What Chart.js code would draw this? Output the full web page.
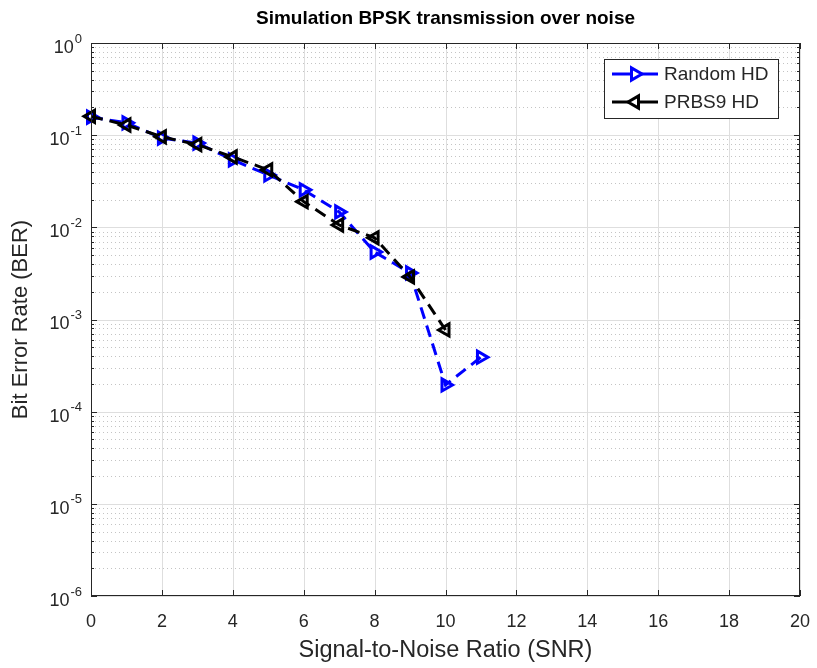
<!DOCTYPE html>
<html>
<head>
<meta charset="utf-8">
<script src="https://cdn.jsdelivr.net/npm/chart.js@4.4.0/dist/chart.umd.min.js"></script>
<style>
  body { margin: 0; background: #fff; }
  #wrap { width: 817px; height: 668px; }
</style>
</head>
<body>
<div id="wrap"><canvas id="myChart" width="817" height="668"></canvas></div>
<script>
// values
const snr = [0, 1, 2, 3, 4, 5, 6, 7, 8, 9, 10, 11];
const randomHD = [0.157, 0.136, 0.093, 0.082, 0.054, 0.037, 0.0255, 0.0147, 0.0054, 0.0032, 0.000195, 0.00039];
const prbs9HD = [0.16, 0.129, 0.096, 0.079, 0.058, 0.042, 0.019, 0.0106, 0.0077, 0.0029, 0.00077];
const xTicks = [0, 2, 4, 6, 8, 10, 12, 14, 16, 18, 20];
const yExponents = [-6, -5, -4, -3, -2, -1, 0];
const minorMantissa = [2, 3, 4, 5, 6, 7, 8, 9];

const FONT = "'Liberation Sans', Arial, Helvetica, sans-serif";
const AXIS_COLOR = "#262626";

const toPoints = (ys) => ys.map((y, i) => ({ x: snr[i], y: y }));

// grid, ticks, labels, title and legend, matlab style
const matlabAxes = {
    id: "matlabAxes",
    beforeDatasetsDraw(chart) {
        const { ctx, chartArea: a, scales } = chart;
        const x = scales.x, y = scales.y;
        ctx.save();
        // minor dotted grid (y only)
        ctx.strokeStyle = "#c4c4c4";
        ctx.lineWidth = 1;
        ctx.setLineDash([1, 3]);
        yExponents.slice(0, -1).forEach((e) => {
            minorMantissa.forEach((m) => {
                const py = Math.round(y.getPixelForValue(m * Math.pow(10, e))) + 0.5;
                ctx.beginPath();
                ctx.moveTo(a.left, py);
                ctx.lineTo(a.right, py);
                ctx.stroke();
            });
        });
        // major grid
        ctx.setLineDash([]);
        ctx.strokeStyle = "#dedede";
        xTicks.forEach((t) => {
            const px = Math.round(x.getPixelForValue(t)) + 0.5;
            ctx.beginPath();
            ctx.moveTo(px, a.top);
            ctx.lineTo(px, a.bottom);
            ctx.stroke();
        });
        yExponents.forEach((e) => {
            const py = Math.round(y.getPixelForValue(Math.pow(10, e))) + 0.5;
            ctx.beginPath();
            ctx.moveTo(a.left, py);
            ctx.lineTo(a.right, py);
            ctx.stroke();
        });
        ctx.restore();
    },
    afterDatasetsDraw(chart) {
        const { ctx, chartArea: a, scales } = chart;
        const x = scales.x, y = scales.y;
        ctx.save();
        ctx.strokeStyle = AXIS_COLOR;
        ctx.lineWidth = 1;
        // box
        ctx.strokeRect(a.left + 0.5, a.top + 0.5, a.right - a.left - 1, a.bottom - a.top - 1);
        // ticks
        ctx.beginPath();
        xTicks.forEach((t) => {
            const px = Math.round(x.getPixelForValue(t)) + 0.5;
            ctx.moveTo(px, a.bottom);
            ctx.lineTo(px, a.bottom - 6);
            ctx.moveTo(px, a.top);
            ctx.lineTo(px, a.top + 6);
        });
        yExponents.forEach((e) => {
            const py = Math.round(y.getPixelForValue(Math.pow(10, e))) + 0.5;
            ctx.moveTo(a.left, py);
            ctx.lineTo(a.left + 6, py);
            ctx.moveTo(a.right, py);
            ctx.lineTo(a.right - 6, py);
            if (e < 0) {
                minorMantissa.forEach((m) => {
                    const my = Math.round(y.getPixelForValue(m * Math.pow(10, e))) + 0.5;
                    ctx.moveTo(a.left, my);
                    ctx.lineTo(a.left + 3, my);
                    ctx.moveTo(a.right, my);
                    ctx.lineTo(a.right - 3, my);
                });
            }
        });
        ctx.stroke();

        // x tick labels
        ctx.fillStyle = AXIS_COLOR;
        ctx.font = "18px " + FONT;
        ctx.textAlign = "center";
        ctx.textBaseline = "middle";
        xTicks.forEach((t) => {
            ctx.fillText(String(t), x.getPixelForValue(t), 622);
        });

        // y tick labels 10^e
        ctx.textAlign = "left";
        yExponents.forEach((e) => {
            const py = y.getPixelForValue(Math.pow(10, e));
            ctx.font = "18px " + FONT;
            const w1 = ctx.measureText("10").width;
            ctx.font = "13px " + FONT;
            const w2 = ctx.measureText(String(e)).width;
            const left = 81 - w1 - w2;
            ctx.font = "18px " + FONT;
            ctx.fillText("10", left, py + 5);
            ctx.font = "13px " + FONT;
            ctx.fillText(String(e), left + w1 + 1, py - 4);
        });

        // axis titles
        ctx.font = "23.5px " + FONT;
        ctx.textAlign = "center";
        ctx.fillText("Signal-to-Noise Ratio (SNR)", (a.left + a.right) / 2, 651);
        ctx.font = "22px " + FONT;
        ctx.save();
        ctx.translate(21, (a.top + a.bottom) / 2);
        ctx.rotate(-Math.PI / 2);
        ctx.fillText("Bit Error Rate (BER)", 0, 0);
        ctx.restore();

        // title
        ctx.fillStyle = "#000";
        ctx.font = "bold 19px " + FONT;
        ctx.textBaseline = "alphabetic";
        ctx.fillText("Simulation BPSK transmission over noise", (a.left + a.right) / 2, 24);

        // legend
        const bx = 604, by = 59, bw = 174, bh = 59;
        ctx.fillStyle = "#fff";
        ctx.fillRect(bx, by, bw, bh);
        ctx.strokeStyle = AXIS_COLOR;
        ctx.strokeRect(bx + 0.5, by + 0.5, bw, bh);
        const rows = [
            { text: "Random HD", color: "#0000ff", rot: 90, y: 74 },
            { text: "PRBS9 HD", color: "#000000", rot: -90, y: 102 }
        ];
        rows.forEach((r) => {
            ctx.strokeStyle = r.color;
            ctx.lineWidth = 3;
            ctx.beginPath();
            ctx.moveTo(612, r.y);
            ctx.lineTo(658, r.y);
            ctx.stroke();
            // hollow triangle marker
            const rad = 7;
            let ang = r.rot * Math.PI / 180;
            ctx.fillStyle = "#fff";
            ctx.beginPath();
            for (let k = 0; k < 3; k++) {
                const px = 635 + Math.sin(ang) * rad;
                const py = r.y - Math.cos(ang) * rad;
                if (k === 0) ctx.moveTo(px, py); else ctx.lineTo(px, py);
                ang += 2 * Math.PI / 3;
            }
            ctx.closePath();
            ctx.fill();
            ctx.stroke();
            ctx.fillStyle = AXIS_COLOR;
            ctx.font = "19px " + FONT;
            ctx.textAlign = "left";
            ctx.textBaseline = "middle";
            ctx.fillText(r.text, 664, r.y + 1);
        });
        ctx.restore();
    }
};

const ctx = document.getElementById("myChart").getContext("2d");
const myChart = new Chart(ctx, {
    type: "line",
    data: {
        datasets: [
            {
                label: "Random HD",
                data: toPoints(randomHD),
                borderColor: "#0000ff",
                borderWidth: 3,
                borderDash: [12, 7],
                pointStyle: "triangle",
                rotation: 90,
                pointRadius: 7,
                pointBorderWidth: 3,
                pointBackgroundColor: "rgba(0,0,0,0)",
                pointBorderColor: "#0000ff",
                fill: false,
                tension: 0,
                clip: false,
                order: 1
            },
            {
                label: "PRBS9 HD",
                data: toPoints(prbs9HD),
                borderColor: "#000000",
                borderWidth: 3,
                borderDash: [12, 7],
                pointStyle: "triangle",
                rotation: -90,
                pointRadius: 7,
                pointBorderWidth: 3,
                pointBackgroundColor: "rgba(0,0,0,0)",
                pointBorderColor: "#000000",
                fill: false,
                tension: 0,
                clip: false,
                order: 0
            }
        ]
    },
    options: {
        responsive: false,
        animation: false,
        devicePixelRatio: 1,
        layout: { padding: { left: 91, top: 43, right: 17, bottom: 72 } },
        plugins: {
            legend: { display: false },
            title: { display: false },
            tooltip: { enabled: false }
        },
        scales: {
            x: { type: "linear", min: 0, max: 20, display: false },
            y: { type: "logarithmic", min: 1e-6, max: 1, display: false }
        }
    },
    plugins: [matlabAxes]
});
</script>
</body>
</html>
